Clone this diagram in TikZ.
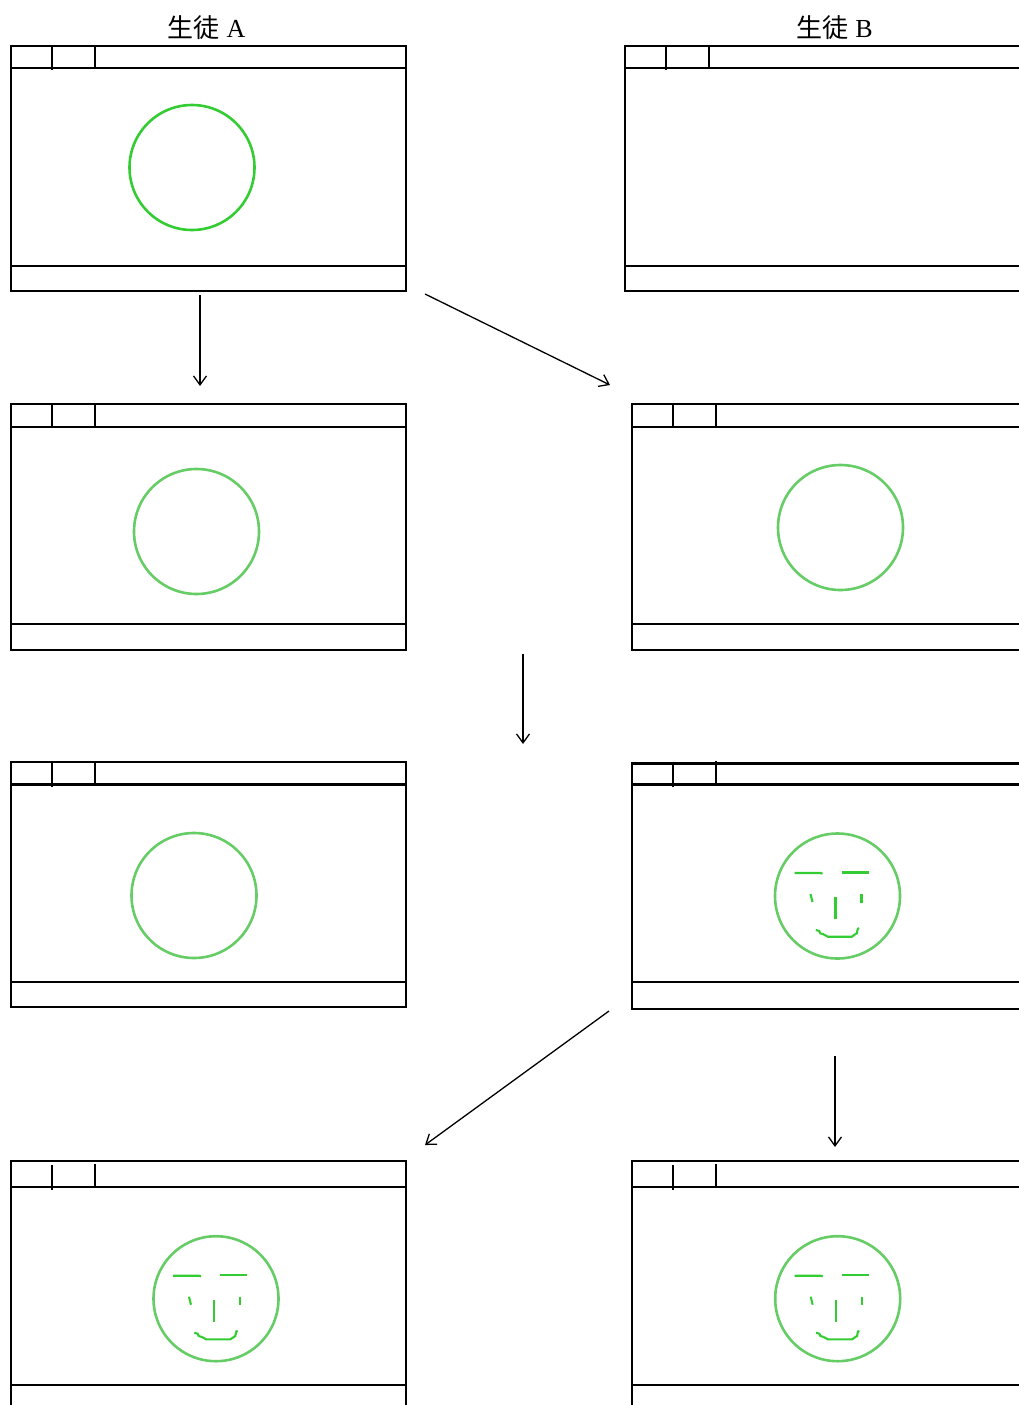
\documentclass[tikz,border=0pt]{standalone}
\usepackage{fontspec}
\newfontfamily\cjkfont{Noto Sans CJK JP}
\newfontfamily\latserif{Liberation Serif}
\usetikzlibrary{arrows.meta}
\definecolor{greenA}{HTML}{33CC33}
\definecolor{greenB}{HTML}{66CC66}
\definecolor{greenF}{HTML}{33CC33}
\tikzset{
  winline/.style={line width=2.2pt, black, line cap=rect},
  tabline/.style={line width=2.2pt, black},
  flowarrow/.style={line width=1.3pt, -{Straight Barb[length=9pt,width=13pt,line width=1.3pt]}},
  ballA/.style={line width=2.6pt, draw=greenA},
  ballB/.style={line width=2.6pt, draw=greenB},
  feat/.style={line width=2.1pt, draw=greenF},
  label/.style={anchor=base, inner sep=0pt, font=\fontsize{26}{30}\selectfont}
}
% left x, top y, title y, status y, bottom y, right x
\newcommand\appframe[6]{%
  \draw[winline] (#1,#5) -- (#1,#2) -- (#6,#2);
  \draw[winline] (#1,#3) -- (#6,#3);
  \draw[winline] (#1,#4) -- (#6,#4);
}
\newcommand\smileface[3]{% name, cx, cy
  \begin{scope}[shift={(#2,#3)}]
    \node[circle, ballB, minimum size=125pt, inner sep=0pt] (#1) at (0,0) {};
    \draw[feat] (-43,-23) -- (-17,-23) -- (-15,-22.3);
    \draw[feat] (4,-23.5) -- (31,-23.5);
    \draw[feat] (-27,-2) -- (-25,6);
    \draw[feat] (24,-2) -- (24,6.5);
    \draw[feat] (-2,1) -- (-2,23);
    \draw[feat] (-21.7,34) -- (-18.3,35) -- (-17.3,37.3) -- (-14,38.3) -- (-9.7,40.7) -- (14.3,40.7) -- (17.7,38.3) -- (19.3,37.3) -- (20.3,32.7) -- (21.7,32.3);
  \end{scope}
}
\begin{document}
\begin{tikzpicture}[x=1pt,y=-1pt]
\useasboundingbox (0,0) rectangle (1019,1405);
\clip (0,0) rectangle (1019,1405);

% titles
\node[label] (tA) at (206.5,37.7) {{\cjkfont 生徒}\hspace{7pt}{\latserif A}};
\node[label] (tB) at (834.5,37.7) {{\cjkfont 生徒}\hspace{7pt}{\latserif B}};

% Window 1 (A, top)
\appframe{11}{45.7}{67.7}{266}{290.7}{406}
\draw[winline] (406,45.7) -- (406,290.7) -- (11,290.7);
\draw[tabline] (51.7,45.7) -- (51.7,70.5);
\draw[tabline] (95,45.7) -- (95,67.7);
\node[circle, ballA, minimum size=125pt, inner sep=0pt] (c1) at (192,167.5) {};

% Window 2 (B, top)
\appframe{625}{45.7}{67.7}{266}{290.7}{1030}
\draw[winline] (625,290.7) -- (1030,290.7);
\draw[tabline] (665.7,45.7) -- (665.7,70.5);
\draw[tabline] (709,45.7) -- (709,67.7);

% Window 3 (A, row 2)
\appframe{11}{404}{427}{624}{650}{406}
\draw[winline] (406,404) -- (406,650) -- (11,650);
\draw[tabline] (51.7,404) -- (51.7,427);
\draw[tabline] (95,404) -- (95,427);
\node[circle, ballB, minimum size=125pt, inner sep=0pt] (c3) at (196.5,531.5) {};

% Window 4 (B, row 2)
\appframe{632}{404}{427}{624}{650}{1030}
\draw[winline] (632,650) -- (1030,650);
\draw[tabline] (672.7,404) -- (672.7,427);
\draw[tabline] (716,404) -- (716,427);
\node[circle, ballB, minimum size=125pt, inner sep=0pt] (c4) at (840.5,527.5) {};

% Window 5 (A, row 3)
\appframe{11}{762.3}{784.5}{982}{1007}{406}
\draw[winline] (406,762.3) -- (406,1007) -- (11,1007);
\draw[tabline] (51.7,762.3) -- (51.7,787);
\draw[tabline] (95,762.3) -- (95,784.5);
\node[circle, ballB, minimum size=125pt, inner sep=0pt] (c5) at (194,895.5) {};

% Window 6 (B, row 3)
\appframe{632}{763.5}{784.5}{982}{1009}{1030}
\draw[winline] (632,1009) -- (1030,1009);
\draw[tabline] (672.7,763.5) -- (672.7,787);
\draw[tabline] (716,760.5) -- (716,784.5);
\smileface{f6}{837.5}{896}

% Window 7 (A, row 4)
\appframe{11}{1160.7}{1186.7}{1384.7}{1410}{406}
\draw[winline] (406,1160.7) -- (406,1410);
\draw[tabline] (51.7,1165) -- (51.7,1190);
\draw[tabline] (95,1164) -- (95,1186.7);
\smileface{f7}{216}{1298.7}

% Window 8 (B, row 4)
\appframe{632}{1160.7}{1186.7}{1384.7}{1410}{1030}
\draw[tabline] (672.7,1165) -- (672.7,1190);
\draw[tabline] (716,1164) -- (716,1186.7);
\smileface{f8}{837.7}{1298.7}

% arrow endpoints
\coordinate (a1s) at (200,295);   \coordinate (a1e) at (200,386);
\coordinate (a2s) at (425,294);   \coordinate (a2e) at (610,385);
\coordinate (a3s) at (523,654);   \coordinate (a3e) at (523,744);
\coordinate (a4s) at (609,1011);  \coordinate (a4e) at (425,1145);
\coordinate (a5s) at (835,1056);  \coordinate (a5e) at (835,1147);

\draw[flowarrow] (a1s) -- (a1e);
\draw[flowarrow] (a2s) -- (a2e);
\draw[flowarrow] (a3s) -- (a3e);
\draw[flowarrow] (a4s) -- (a4e);
\draw[flowarrow] (a5s) -- (a5e);
\end{tikzpicture}
\end{document}
